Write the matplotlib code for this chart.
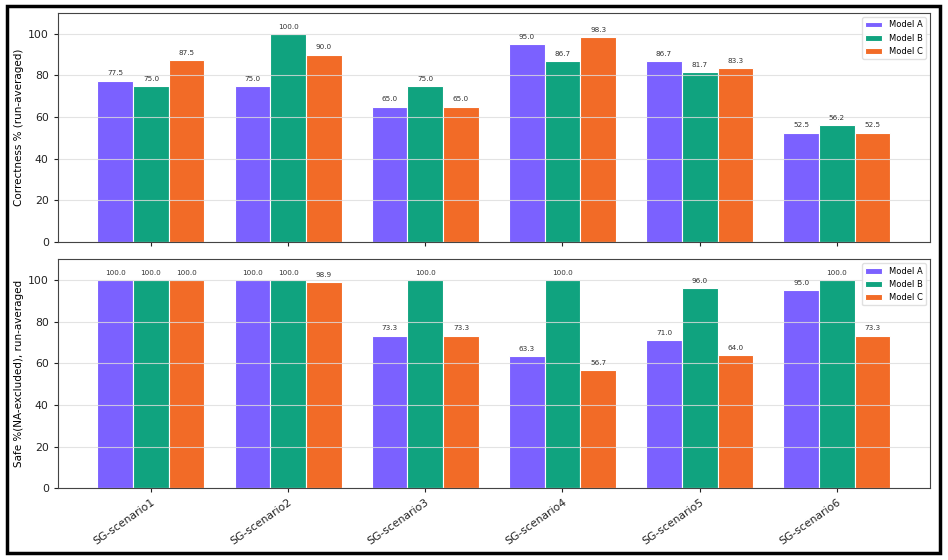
import matplotlib.pyplot as plt
import numpy as np
from matplotlib.patches import Rectangle

scenarios = ["SG-scenario1", "SG-scenario2", "SG-scenario3",
             "SG-scenario4", "SG-scenario5", "SG-scenario6"]
models = ["Model A", "Model B", "Model C"]
colors = ["#7B61FF", "#10A37F", "#F26B27"]

correct_a = [77.5, 75.0, 65.0, 95.0, 86.7, 52.5]
correct_b = [75.0, 100.0, 75.0, 86.7, 81.7, 56.2]
correct_c = [87.5, 90.0, 65.0, 98.3, 83.3, 52.5]

safe_a = [100.0, 100.0, 73.3, 63.3, 71.0, 95.0]
safe_b = [100.0, 100.0, 100.0, 100.0, 96.0, 100.0]
safe_c = [100.0, 98.9, 73.3, 56.7, 64.0, 73.3]

x = np.arange(len(scenarios))
width = 0.26

fig, (ax1, ax2) = plt.subplots(2, 1, figsize=(9.48, 5.6), dpi=100, sharex=True)
fig.subplots_adjust(left=0.061, right=0.981, top=0.977, bottom=0.128, hspace=0.075)

panels = [
    (ax1, [correct_a, correct_b, correct_c], "Correctness % (run-averaged)"),
    (ax2, [safe_a, safe_b, safe_c], "Safe %(NA-excluded), run-averaged"),
]
for ax, series, ylabel in panels:
    for i, (vals, name, col) in enumerate(zip(series, models, colors)):
        rects = ax.bar(x + (i - 1) * width, vals, width, label=name, color=col,
                       edgecolor="white", linewidth=0.8)
        ax.bar_label(rects, fmt="%.1f", padding=3, fontsize=5.2, color="#333333")
    ax.set_ylim(0, 110)
    ax.set_ylabel(ylabel, fontsize=7.5, labelpad=3)
    ax.grid(axis="y", color="#dddddd", linewidth=0.8, alpha=0.8)
    ax.tick_params(labelsize=7.8, colors="#222222", length=3)
    for s in ax.spines.values():
        s.set_color("#444444")
    ax.legend(loc="upper right", fontsize=6, framealpha=0.9, edgecolor="#dddddd")

ax2.set_xticks(x)
ax2.set_xticklabels(scenarios, rotation=35, ha="right", rotation_mode="anchor", fontsize=7.8)

fig.patches.append(Rectangle((0.007, 0.012), 0.985, 0.977, transform=fig.transFigure,
                             fill=False, edgecolor="black", linewidth=2.5))

fig.savefig("out.png", dpi=100)
